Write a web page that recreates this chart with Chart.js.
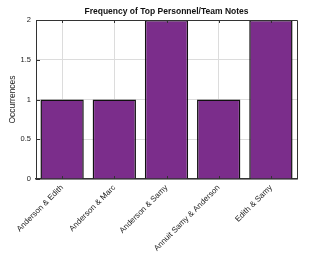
<!DOCTYPE html>
<html>
<head>
<meta charset="utf-8">
<script src="https://cdn.jsdelivr.net/npm/chart.js@4"></script>
<style>
  html, body { margin: 0; padding: 0; background: #fff; }
</style>
</head>
<body>
<canvas id="chart" width="313" height="255"></canvas>
<script>
// data
const categories = ['Anderson & Edith', 'Anderson & Marc', 'Anderson & Samy', 'Annuit Samy & Anderson', 'Edith & Samy'];
const counts = [1, 1, 2, 1, 2];
const yTicks = [0, 0.5, 1, 1.5, 2];
const chartTitle = 'Frequency of Top Personnel/Team Notes';

const font = 'Arial, "Liberation Sans", sans-serif';

// title centred over the plot, frame on top/right, little inward tick marks
const framePlugin = {
    id: 'frame',
    afterDatasetsDraw(chart) {
        const ctx = chart.ctx;
        const a = chart.chartArea;
        const x = chart.scales.x;
        const y = chart.scales.y;
        ctx.save();
        ctx.fillStyle = '#111';
        ctx.font = 'bold 8.5px ' + font;
        ctx.textAlign = 'center';
        ctx.textBaseline = 'middle';
        ctx.fillText(chartTitle, (a.left + a.right) / 2, 12);

        ctx.strokeStyle = '#333';
        ctx.lineWidth = 1;
        ctx.beginPath();
        ctx.moveTo(a.left, a.top + 0.5);
        ctx.lineTo(a.right + 0.5, a.top + 0.5);
        ctx.lineTo(a.right + 0.5, a.bottom);
        ctx.stroke();
        ctx.beginPath();
        yTicks.forEach(v => {
            const py = Math.round(y.getPixelForValue(v)) + 0.5;
            ctx.moveTo(a.left, py);
            ctx.lineTo(a.left + 4, py);
        });
        categories.forEach((c, i) => {
            const px = Math.round(x.getPixelForValue(i)) + 0.5;
            ctx.moveTo(px, a.bottom);
            ctx.lineTo(px, a.bottom - 3);
            ctx.moveTo(px, a.top);
            ctx.lineTo(px, a.top + 3);
        });
        ctx.stroke();
        ctx.restore();
    }
};

new Chart(document.getElementById('chart'), {
    type: 'bar',
    data: {
        labels: categories,
        datasets: [{
            label: 'Occurrences',
            data: counts,
            backgroundColor: '#7b2d8b',
            borderColor: '#111',
            borderWidth: 1.5,
            barPercentage: 0.83,
            categoryPercentage: 1
        }]
    },
    options: {
        responsive: false,
        animation: false,
        layout: { padding: { left: 0, right: 16, top: 20, bottom: 0 } },
        plugins: {
            legend: { display: false },
            tooltip: { enabled: false },
            title: { display: false }
        },
        scales: {
            x: {
                grid: { offset: false, color: '#dcdcdc', drawTicks: false },
                border: { color: '#333', width: 1.5 },
                ticks: {
                    color: '#222',
                    font: { family: font, size: 8 },
                    minRotation: 45,
                    maxRotation: 45,
                    padding: 4
                },
                afterFit(scale) { scale.height = 76; }
            },
            y: {
                min: 0,
                max: 2,
                grid: { color: '#dcdcdc', drawTicks: false },
                border: { color: '#333', width: 1 },
                ticks: {
                    stepSize: 0.5,
                    color: '#222',
                    font: { family: font, size: 7.5 },
                    padding: 5,
                    callback: v => String(v)
                },
                title: {
                    display: true,
                    text: 'Occurrences',
                    color: '#222',
                    font: { family: font, size: 8.5 },
                    padding: { top: 8, bottom: 2 }
                },
                afterFit(scale) { scale.width = 36; }
            }
        }
    },
    plugins: [framePlugin]
});
</script>
</body>
</html>
